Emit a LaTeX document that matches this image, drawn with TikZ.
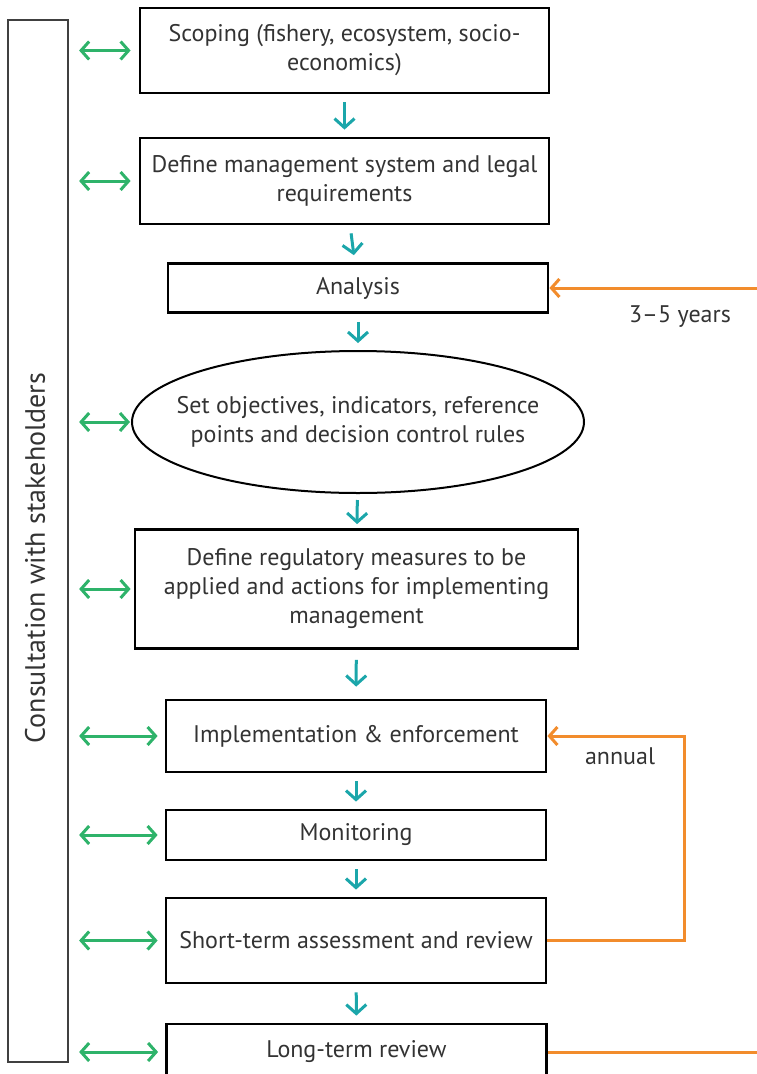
\documentclass[tikz,border=0pt]{standalone}
\usepackage{fontspec}
\setmainfont{PT Sans}
\usetikzlibrary{arrows.meta, shapes.geometric}

\definecolor{txtgray}{HTML}{333333}
\definecolor{linkgreen}{HTML}{2EB36A}
\definecolor{flowteal}{HTML}{1BA6AA}
\definecolor{looporange}{HTML}{F28C2C}

\begin{document}
\begin{tikzpicture}[x=1pt, y=-1pt,
    stepbox/.style={draw=black, line width=2.8pt, fill=white, align=center, text=txtgray,
        inner sep=0pt, font=\fontsize{24}{29}\selectfont},
    link/.style={{Straight Barb[length=8pt,width=18pt]}-{Straight Barb[length=8pt,width=18pt]},
        linkgreen, line width=3pt, shorten <=10pt},
    flow/.style={-{Straight Barb[length=9pt,width=20pt]}, flowteal, line width=3pt,
        shorten <=8pt, shorten >=7pt},
    back/.style={-{Straight Barb[length=8pt,width=18pt]}, looporange, line width=3pt},
    note/.style={text=txtgray, font=\fontsize{24}{29}\selectfont}]

\clip (0,0) rectangle (757,1074);

% Consultation bar
\node[draw=black!75, line width=2.2pt, minimum width=60pt, minimum height=1042pt, inner sep=0pt] (stake) at (38,541) {};
\node[rotate=90, text=txtgray, font=\fontsize{28}{32}\selectfont] (stakelabel) at (35,558) {Consultation with stakeholders};

% Process steps
\node[stepbox, minimum width=409pt, minimum height=85pt] (scope) at (344.5,50.5) {Scoping (fishery, ecosystem, socio-\\economics)};
\node[stepbox, minimum width=409pt, minimum height=86pt] (system) at (344.5,181) {Define management system and legal\\requirements};
\node[stepbox, minimum width=380pt, minimum height=49pt] (analysis) at (358,288) {Analysis};
\node[stepbox, ellipse, line width=2pt, inner xsep=-30pt, inner ysep=0pt, minimum width=452pt, minimum height=142pt] (objectives) at (358,422) {Set objectives, indicators, reference\\points and decision control rules};
\node[stepbox, minimum width=443pt, minimum height=119pt] (measures) at (356.5,589) {Define regulatory measures to be\\applied and actions for implementing\\management};
\node[stepbox, minimum width=380pt, minimum height=72pt] (enforce) at (356,736) {Implementation \& enforcement};
\node[stepbox, minimum width=380pt, minimum height=50pt] (monitor) at (356,835) {Monitoring};
\node[stepbox, minimum width=380pt, minimum height=85pt] (shortrev) at (356,940.5) {Short-term assessment and review};
\node[stepbox, minimum width=380pt, minimum height=56pt] (longrev) at (356.5,1052) {Long-term review};

% Flow down
\draw[flow] (scope) -- (system);
\draw[flow] (system) -- (analysis);
\draw[flow] (analysis) -- (objectives);
\draw[flow, shorten <=6pt, shorten >=4pt] (objectives) -- (measures);
\draw[flow, shorten <=10pt, shorten >=12pt] (measures) -- (enforce);
\draw[flow] (enforce) -- (monitor);
\draw[flow] (monitor) -- (shortrev);
\draw[flow] (shortrev) -- (longrev);

% Links to stakeholders
\draw[link, shorten >=8pt] (stake.east |- scope.west) -- (scope.west);
\draw[link, shorten >=8pt] (stake.east |- system.west) -- (system.west);
\draw[link, shorten >=1pt] (stake.east |- objectives.west) -- (objectives.west);
\draw[link, shorten >=3pt] (stake.east |- measures.west) -- (measures.west);
\foreach \n in {enforce, monitor, shortrev, longrev}
  \draw[link, shorten >=7pt] (stake.east |- \n.west) -- (\n.west);

% Review loops
\coordinate (inlong) at (757,288);
\coordinate (outlong) at (757,1052);
\draw[back] (inlong) -- (analysis.east);
\node[note] (yearsl) at (680,317) {3--5 years};
\draw[looporange, line width=3pt] (longrev.east |- outlong) -- (outlong);
\draw[back] (shortrev.east) -- ++(137,0) |- (enforce.east);
\node[note] (annuall) at (620,756) {annual};

\end{tikzpicture}
\end{document}
